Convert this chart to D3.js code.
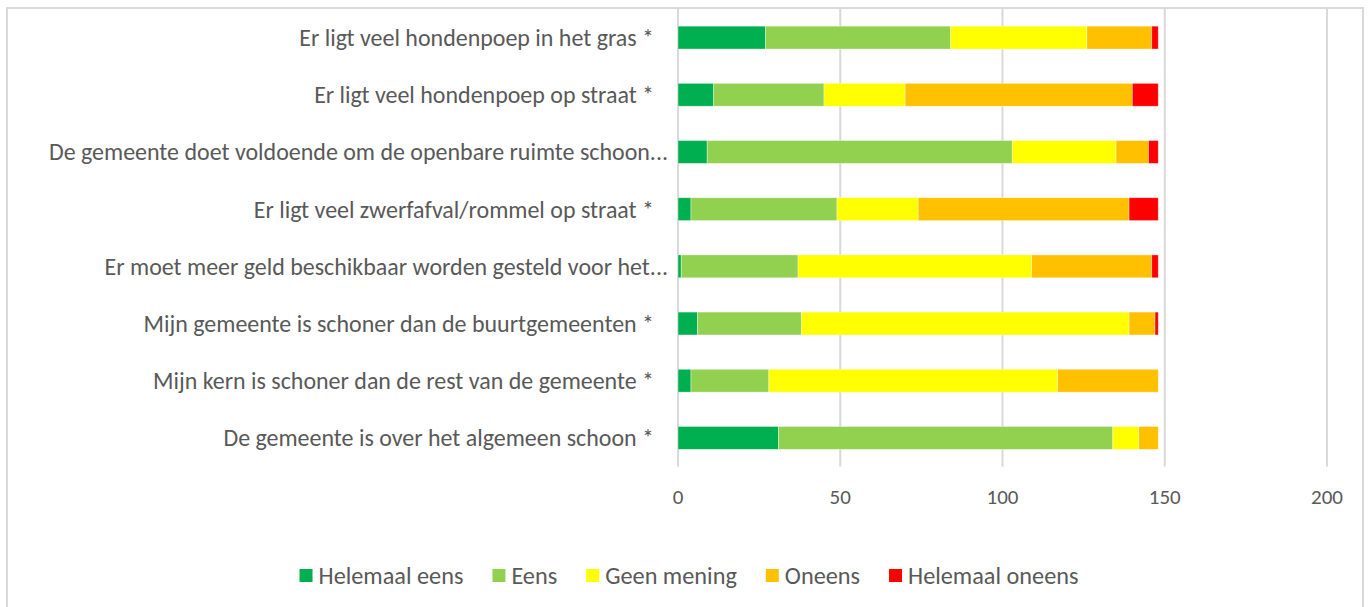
<!DOCTYPE html>
<html><head><meta charset="utf-8">
<script src="https://cdn.jsdelivr.net/npm/d3@7"></script>
<style>
body{margin:0;background:#fff;overflow:hidden}
svg{display:block}
text{font-family:Carlito,Lato,"Liberation Sans",sans-serif;fill:#595959}
</style>
</head><body><svg id="c" width="1368" height="607"></svg>
<script>
const categories = [
  "Er ligt veel hondenpoep in het gras *",
  "Er ligt veel hondenpoep op straat *",
  "De gemeente doet voldoende om de openbare ruimte schoon...",
  "Er ligt veel zwerfafval/rommel op straat *",
  "Er moet meer geld beschikbaar worden gesteld voor het...",
  "Mijn gemeente is schoner dan de buurtgemeenten *",
  "Mijn kern is schoner dan de rest van de gemeente *",
  "De gemeente is over het algemeen schoon *"
];
const seriesNames = ["Helemaal eens", "Eens", "Geen mening", "Oneens", "Helemaal oneens"];
const helemaalEens   = [27, 11,  9,  4,  1,   6,  4,  31];
const eens           = [57, 34, 94, 45, 36,  32, 24, 103];
const geenMening     = [42, 25, 32, 25, 72, 101, 89,   8];
const oneens         = [20, 70, 10, 65, 37,   8, 31,   6];
const helemaalOneens = [ 2,  8,  3,  9,  2,   1,  0,   0];
const xTicks = [0, 50, 100, 150, 200];
const colors = ["#00b050", "#92d050", "#ffff00", "#ffc000", "#ff0000"];

const seriesValues = [helemaalEens, eens, geenMening, oneens, helemaalOneens];
const rows = categories.map((c, i) => {
  const r = {cat: c};
  seriesNames.forEach((s, j) => r[s] = seriesValues[j][i]);
  return r;
});

const svg = d3.select("#c");

// outer frame
svg.append("rect").attr("x", 7).attr("y", 8).attr("width", 1356).attr("height", 640)
  .attr("fill", "none").attr("stroke", "#d9d9d9").attr("stroke-width", 2);

const plotTop = 9, plotBottom = 466.5;
const x = d3.scaleLinear().domain([0, 200]).range([678, 1327]);
const y = d3.scaleBand().domain(categories).range([plotTop, plotBottom])
  .paddingInner(0.6).paddingOuter(0.3);

// gridlines
svg.append("g").selectAll("line").data(xTicks).join("line")
  .attr("x1", d => x(d)).attr("x2", d => x(d))
  .attr("y1", plotTop).attr("y2", plotBottom)
  .attr("stroke", "#d9d9d9").attr("stroke-width", 2);

// tick labels
svg.append("g").selectAll("text").data(xTicks).join("text")
  .attr("x", d => x(d)).attr("y", 497).attr("dy", "0.35em")
  .attr("text-anchor", "middle").attr("font-size", 21)
  .text(d => d);

// stacked bars
const stack = d3.stack().keys(seriesNames)(rows);
svg.append("g").selectAll("g").data(stack).join("g")
  .attr("fill", (d, i) => colors[i])
  .selectAll("rect").data(d => d).join("rect")
  .attr("x", d => x(d[0])).attr("width", d => x(d[1]) - x(d[0]))
  .attr("y", d => y(d.data.cat)).attr("height", y.bandwidth())
  .attr("stroke", "#ffffff").attr("stroke-opacity", 0.5).attr("stroke-width", 0.75);

// category labels
const lab = svg.append("g").selectAll("text").data(categories).join("text")
  .attr("x", d => d.endsWith("...") ? 668 : 654)
  .attr("y", d => y(d) + y.bandwidth() / 2)
  .attr("dy", "0.35em").attr("text-anchor", "end").attr("font-size", 20)
  .text(d => d);
const w0 = lab.nodes()[0].getComputedTextLength();
const fs = 20 * 355 / w0;
lab.attr("font-size", fs);

// legend
const legend = svg.append("g");
const probe = legend.append("text").attr("font-size", 20).text(seriesNames[0]);
const lfs = 20 * 145 / probe.node().getComputedTextLength();
probe.remove();
let cx = 0;
seriesNames.forEach((s, i) => {
  const g = legend.append("g");
  g.append("rect").attr("x", cx).attr("y", 569).attr("width", 13).attr("height", 13).attr("fill", colors[i]);
  const t = g.append("text").attr("x", cx + 19).attr("y", 576).attr("dy", "0.35em")
    .attr("font-size", lfs).text(s);
  cx += 19 + t.node().getComputedTextLength() + 29;
});
const totalW = cx - 29;
legend.attr("transform", `translate(${299 + (780 - totalW) / 2},0)`);
</script>
</body></html>
